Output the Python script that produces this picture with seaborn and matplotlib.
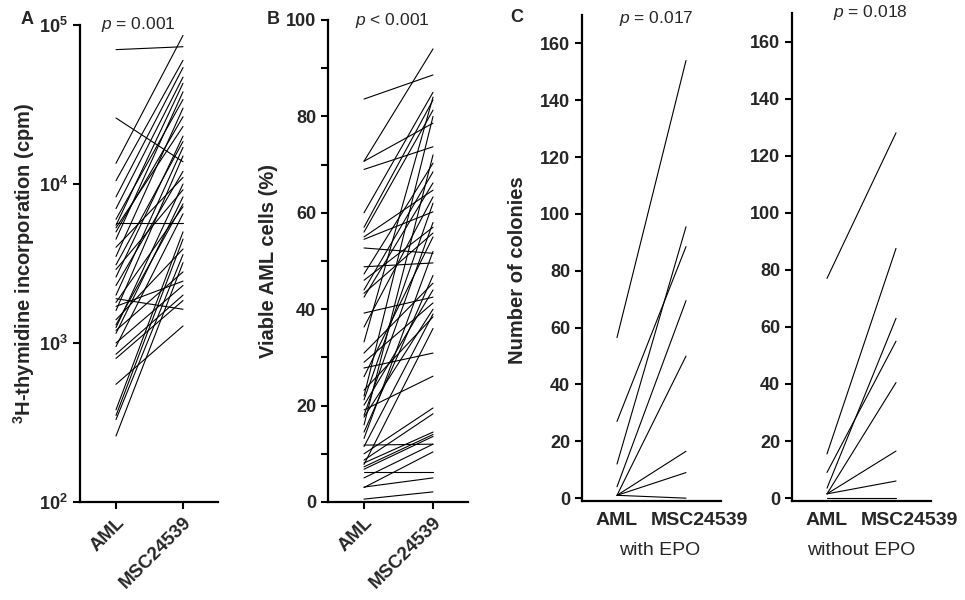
import numpy as np
import pandas as pd
import matplotlib
matplotlib.use("Agg")
import matplotlib.pyplot as plt
from matplotlib.ticker import NullLocator
from matplotlib.transforms import ScaledTranslation
import seaborn as sns

# ---- data ----
groups = ["AML", "MSC24539"]

# panel A: 3H-thymidine incorporation (cpm), paired AML vs coculture
thymidine_aml = [70000, 26000, 13500, 10500, 8300, 7000, 6000, 5700, 5500, 5300,
                 5000, 4500, 4000, 3500, 3100, 2900, 2600, 2300, 2000, 1800,
                 1600, 1400, 1250, 1200, 1150, 1000, 950, 850, 800, 550,
                 380, 350, 330, 260, 1300, 1700, 1900]
thymidine_msc = [73000, 13800, 86000, 60000, 54000, 47000, 34000, 5700, 43000, 23000,
                 26500, 38000, 11000, 30000, 18500, 9200, 20000, 12000, 17000, 7200,
                 15000, 3900, 10000, 2800, 8300, 2300, 6500, 2000, 1850, 1280,
                 5000, 4500, 3600, 3200, 7500, 2450, 1630]

# panel B: viable AML cells (%)
viable_aml = [83.6, 70.7, 70.7, 69.0, 60.0, 57.0, 56.0, 55.0, 54.5, 52.7,
              48.8, 47.3, 46.0, 44.0, 43.3, 42.5, 39.2, 36.3, 33.2, 30.9,
              29.0, 27.8, 26.0, 23.2, 22.0, 21.2, 20.1, 19.1, 18.0, 17.6,
              16.0, 14.5, 13.2, 11.8, 11.5, 10.0, 8.7, 8.1, 7.8, 7.3,
              6.8, 6.2, 5.0, 3.1, 3.0, 0.6]
viable_msc = [88.6, 94.0, 78.6, 73.7, 85.0, 83.4, 81.3, 64.7, 60.2, 51.6,
              49.6, 70.3, 57.0, 68.5, 55.8, 66.2, 42.5, 63.3, 84.0, 45.4,
              41.3, 30.9, 55.0, 38.4, 80.0, 62.0, 44.0, 26.1, 58.0, 40.0,
              72.0, 47.0, 52.0, 12.0, 39.0, 19.5, 18.3, 14.5, 36.0, 14.0,
              13.6, 6.2, 12.0, 5.0, 10.4, 2.1]

# panel C: number of colonies
epo_aml = [56.5, 27, 12, 4, 1, 1, 1, 1]
epo_msc = [154, 88.5, 95.5, 69.5, 50, 16.5, 9, 0]
noepo_aml = [77, 15.5, 9, 3.5, 1.5, 1.5, 1.5, 0]
noepo_msc = [128, 87.5, 55, 63, 40.5, 16.5, 6, 0]


def paired_frame(before, after):
    n = len(before)
    return pd.DataFrame({
        "pair": np.repeat(np.arange(n), 2),
        "group": groups * n,
        "value": np.ravel(np.column_stack([before, after])),
    })


sns.set_style("ticks")
plt.rcParams["font.family"] = ["Liberation Sans", "DejaVu Sans"]
plt.rcParams["mathtext.fontset"] = "custom"
plt.rcParams["mathtext.rm"] = "Liberation Sans"
plt.rcParams["mathtext.it"] = "Liberation Sans:italic"
plt.rcParams["mathtext.bf"] = "Liberation Sans:bold"

W, H = 965, 600
fig = plt.figure(figsize=(W / 100, H / 100), dpi=100)


def px_axes(left, right, top, bottom):
    return fig.add_axes([left / W, (H - bottom) / H, (right - left) / W, (bottom - top) / H])


def style_axes(ax):
    sns.despine(ax=ax)
    for s in ("left", "bottom"):
        ax.spines[s].set_linewidth(1.6)
        ax.spines[s].set_color("black")
    ax.tick_params(axis="both", which="both", direction="out", length=5, width=1.5,
                   color="black", labelsize=13)
    for lab in ax.get_yticklabels():
        lab.set_fontweight("bold")


def draw_pairs(ax, before, after):
    sns.lineplot(data=paired_frame(before, after), x="group", y="value", units="pair",
                 estimator=None, color="black", linewidth=0.8, legend=False, ax=ax)
    ax.set_xlabel("")
    ax.set_ylabel("")


label_kw = dict(fontsize=14.5, fontweight="bold")

# ---- panel A ----
axA = px_axes(80, 218, 25, 502)
axA.set_yscale("log")
draw_pairs(axA, thymidine_aml, thymidine_msc)
axA.set_ylim(100, 1e5)
axA.set_xlim(-0.537, 1.522)
axA.set_yticks([1e2, 1e3, 1e4, 1e5])
axA.set_yticklabels([r"$\mathbf{10^{%d}}$" % k for k in (2, 3, 4, 5)])
axA.yaxis.set_minor_locator(NullLocator())
style_axes(axA)
axA.set_xticks([0, 1])
axA.set_xticklabels(groups, rotation=45, ha="right", rotation_mode="anchor",
                    fontsize=13.5, fontweight="bold")
axA.set_ylabel(r"$^{\mathbf{3}}$H-thymidine incorporation (cpm)", **label_kw)
axA.yaxis.set_label_coords(-0.31, 0.5)

# ---- panel B ----
axB = px_axes(328, 468, 20, 502)
draw_pairs(axB, viable_aml, viable_msc)
axB.set_ylim(0, 100)
axB.set_xlim(-0.522, 1.507)
axB.set_yticks(range(0, 101, 20))
axB.set_yticks(range(10, 100, 20), minor=True)
style_axes(axB)
axB.set_xticks([0, 1])
axB.set_xticklabels(groups, rotation=45, ha="right", rotation_mode="anchor",
                    fontsize=13.5, fontweight="bold")
axB.set_ylabel("Viable AML cells (%)", **label_kw)
axB.yaxis.set_label_coords(-0.357, 0.5)

# ---- panel C ----
axC1 = px_axes(582, 721, 15, 501)
axC2 = px_axes(792, 931, 13, 501)
shift = ScaledTranslation(13 / 100, 0, fig.dpi_scale_trans)
for ax, before, after, cond in ((axC1, epo_aml, epo_msc, "with EPO"),
                                (axC2, noepo_aml, noepo_msc, "without EPO")):
    draw_pairs(ax, before, after)
    ax.set_ylim(-1, 170)
    ax.set_xlim(-0.507, 1.507)
    ax.set_yticks(range(0, 161, 20))
    ax.yaxis.set_minor_locator(NullLocator())
    style_axes(ax)
    ax.set_xticks([0, 1])
    ax.tick_params(axis="x", length=0, pad=8)
    ax.set_xticklabels(groups, fontsize=14, fontweight="bold")
    msc_lab = ax.xaxis.get_major_ticks()[1].label1
    msc_lab.set_transform(msc_lab.get_transform() + shift)
    ax.set_xlabel(cond, fontsize=14, labelpad=9)

axC1.xaxis.label.set_transform(axC1.xaxis.label.get_transform() + ScaledTranslation(0.08, 0, fig.dpi_scale_trans))
axC1.set_ylabel("Number of colonies", **label_kw)
axC1.yaxis.set_label_coords(-0.396, 0.475)

# ---- panel letters and p values ----
for letter, x, y in (("A", 27, 20), ("B", 273, 20), ("C", 517, 18)):
    fig.text(x / W, 1 - y / H, letter, fontsize=13, fontweight="bold", ha="center", va="center")

for txt, x, y in ((r"$p$ = 0.001", 138, 25), (r"$p$ < 0.001", 392, 20),
                  (r"$p$ = 0.017", 656, 18), (r"$p$ = 0.018", 870, 12)):
    fig.text(x / W, 1 - y / H, txt, fontsize=12.5, ha="center", va="center")

fig.savefig("out.png", dpi=100)
